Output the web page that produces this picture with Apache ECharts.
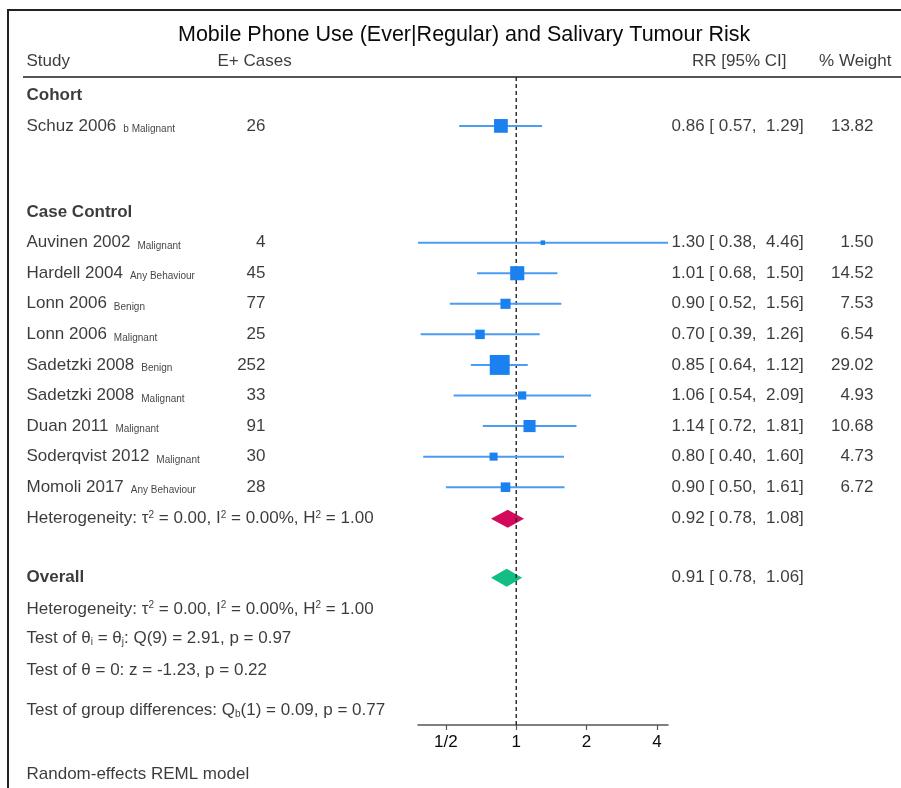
<!DOCTYPE html>
<html>
<head>
<meta charset="utf-8">
<title>Mobile Phone Use and Salivary Tumour Risk</title>
<script src="https://cdn.jsdelivr.net/npm/echarts@6/dist/echarts.min.js"></script>
<style>
  html, body { margin: 0; padding: 0; background: #fff; }
  #chart { width: 901px; height: 788px; }
</style>
</head>
<body>
<div id="chart"></div>
<script>
// study level data
var studies = ['Schuz 2006', 'Auvinen 2002', 'Hardell 2004', 'Lonn 2006', 'Lonn 2006',
               'Sadetzki 2008', 'Sadetzki 2008', 'Duan 2011', 'Soderqvist 2012', 'Momoli 2017'];
var subtypes = ['b Malignant', 'Malignant', 'Any Behaviour', 'Benign', 'Malignant',
                'Benign', 'Malignant', 'Malignant', 'Malignant', 'Any Behaviour'];
var cases = [26, 4, 45, 77, 25, 252, 33, 91, 30, 28];
var rr = [0.86, 1.30, 1.01, 0.90, 0.70, 0.85, 1.06, 1.14, 0.80, 0.90];
var ciLow = [0.57, 0.38, 0.68, 0.52, 0.39, 0.64, 0.54, 0.72, 0.40, 0.50];
var ciHigh = [1.29, 4.46, 1.50, 1.56, 1.26, 1.12, 2.09, 1.81, 1.60, 1.61];
var weights = [13.82, 1.50, 14.52, 7.53, 6.54, 29.02, 4.93, 10.68, 4.73, 6.72];
var studyRows = [1, 4.82, 5.82, 6.82, 7.82, 8.82, 9.82, 10.82, 11.82, 12.82];

// pooled estimates (case control subgroup, overall)
var pooledRR = [0.92, 0.91];
var pooledLow = [0.78, 0.78];
var pooledHigh = [1.08, 1.06];
var pooledRows = [13.85, 15.78];

// group headings and notes
var groupLabels = ['Cohort', 'Case Control', 'Overall'];
var groupRows = [0, 3.83, 15.78];
var noteTexts = [
  '{main|Heterogeneity: τ}{sup|2}{main| = 0.00, I}{sup|2}{main| = 0.00%, H}{sup|2}{main| = 1.00}',
  '{main|Heterogeneity: τ}{sup|2}{main| = 0.00, I}{sup|2}{main| = 0.00%, H}{sup|2}{main| = 1.00}',
  '{main|Test of θ}{sub|i}{main| = θ}{sub|j}{main|: Q(9) = 2.91, p = 0.97}',
  '{main|Test of θ = 0: z = -1.23, p = 0.22}',
  '{main|Test of group differences: Q}{sub|b}{main|(1) = 0.09, p = 0.77}',
  '{main|Random-effects REML model}'
];
var noteRows = [13.85, 16.8, 17.78, 18.8, 20.12, 22.2];

var headerTexts = ['Study', 'E+ Cases', 'RR [95% CI]', '% Weight'];
var headerRow = -1.1;
var xTicks = [0.5, 1, 2, 4];
var xTickLabels = ['1/2', '1', '2', '4'];

// layout
var FONT = '"Liberation Sans", Arial, Helvetica, sans-serif';
var INK = '#0a0a0a';
var ROW_PX = 648 / 21.2;
var Y_MIN = -0.6, Y_MAX = 20.6;
var FULL_MIN = Y_MIN - 77 / ROW_PX;
var FULL_MAX = FULL_MIN + 788 / ROW_PX;

function log2(v) { return Math.log(v) / Math.LN2; }
function f2(v) { return v.toFixed(2); }

var richStyles = {
  main: { fontSize: 17, fontFamily: FONT, color: INK },
  bold: { fontSize: 17, fontFamily: FONT, color: INK, fontWeight: 'bold' },
  sub: { fontSize: 10, fontFamily: FONT, color: INK, verticalAlign: 'bottom' },
  sup: { fontSize: 10, fontFamily: FONT, color: INK, verticalAlign: 'top' },
  tag: { fontSize: 10, fontFamily: FONT, color: '#111', verticalAlign: 'bottom', padding: [0, 0, 0, 7] }
};

// one text column drawn through the full-size helper grid
function textColumn(x, rows, texts, alignRight) {
  return {
    type: 'scatter',
    xAxisIndex: 1,
    yAxisIndex: 1,
    symbolSize: 1,
    silent: true,
    clip: false,
    itemStyle: { color: 'transparent' },
    label: {
      show: true,
      position: alignRight ? 'left' : 'right',
      distance: 0,
      color: INK,
      rich: richStyles
    },
    data: rows.map(function (r, i) {
      return { value: [x, r], label: { formatter: texts[i] } };
    })
  };
}

var studyTexts = studies.map(function (s, i) {
  return '{main|' + s + '}{tag|' + subtypes[i] + '}';
});
var caseTexts = cases.map(function (c) { return '{main|' + c + '}'; });
var rrTexts = rr.map(function (v, i) {
  return '{main|' + f2(v) + ' [ ' + f2(ciLow[i]) + ',  ' + f2(ciHigh[i]) + ']}';
});
var pooledTexts = pooledRR.map(function (v, i) {
  return '{main|' + f2(v) + ' [ ' + f2(pooledLow[i]) + ',  ' + f2(pooledHigh[i]) + ']}';
});
var weightTexts = weights.map(function (w) { return '{main|' + f2(w) + '}'; });
var groupTexts = groupLabels.map(function (g) { return '{bold|' + g + '}'; });

var studyData = rr.map(function (v, i) {
  return [log2(v), studyRows[i], log2(ciLow[i]), log2(ciHigh[i]), weights[i]];
});
var pooledData = pooledRR.map(function (v, i) {
  return [log2(v), pooledRows[i], log2(pooledLow[i]), log2(pooledHigh[i])];
});
var diamondColors = ['#d30a5b', '#12be82'];

var chart = echarts.init(document.getElementById('chart'));
var option = {
  animation: false,
  title: {
    text: 'Mobile Phone Use (Ever|Regular) and Salivary Tumour Risk',
    left: 173,
    top: 19,
    textStyle: { fontFamily: FONT, fontSize: 21.5, fontWeight: 'normal', color: INK }
  },
  graphic: [
    { type: 'rect', shape: { x: 8, y: 10, width: 1000, height: 1000 },
      style: { fill: 'none', stroke: '#222', lineWidth: 2 }, silent: true },
    { type: 'line', shape: { x1: 23, y1: 77, x2: 901, y2: 77 },
      style: { stroke: '#555', lineWidth: 2 }, silent: true }
  ],
  grid: [
    { left: 418, right: 233, top: 77, bottom: 63 },
    { left: 0, right: 0, top: 0, bottom: 0 }
  ],
  xAxis: [
    {
      type: 'value',
      gridIndex: 0,
      min: log2(0.38),
      max: log2(4.46),
      axisLine: { show: true, onZero: false, lineStyle: { color: '#555', width: 1.5 } },
      axisTick: { show: true, length: 5, customValues: xTicks.map(log2), lineStyle: { color: '#555', width: 1.2 } },
      axisLabel: {
        customValues: xTicks.map(log2),
        margin: 9,
        fontFamily: FONT,
        fontSize: 17,
        color: INK,
        formatter: function (v) {
          var i = xTicks.map(log2).findIndex(function (t) { return Math.abs(t - v) < 1e-6; });
          return i >= 0 ? xTickLabels[i] : '';
        }
      },
      splitLine: { show: false }
    },
    { type: 'value', gridIndex: 1, min: 0, max: 901, show: false }
  ],
  yAxis: [
    { type: 'value', gridIndex: 0, inverse: true, min: Y_MIN, max: Y_MAX, show: false },
    { type: 'value', gridIndex: 1, inverse: true, min: FULL_MIN, max: FULL_MAX, show: false }
  ],
  series: [
    // study estimates: CI whisker and weight-sized square
    {
      type: 'custom',
      xAxisIndex: 0,
      yAxisIndex: 0,
      silent: true,
      clip: false,
      z: 6,
      data: studyData,
      renderItem: function (params, api) {
        var c = api.coord([api.value(0), api.value(1)]);
        var a = api.coord([api.value(2), api.value(1)]);
        var b = api.coord([api.value(3), api.value(1)]);
        var side = 3.7 * Math.sqrt(api.value(4));
        return {
          type: 'group',
          children: [
            { type: 'line', shape: { x1: a[0], y1: a[1], x2: b[0], y2: b[1] },
              style: { stroke: '#4a9df3', lineWidth: 2 } },
            { type: 'rect', shape: { x: c[0] - side / 2, y: c[1] - side / 2, width: side, height: side },
              style: { fill: '#1b80f0' } }
          ]
        };
      }
    },
    // pooled diamonds
    {
      type: 'custom',
      xAxisIndex: 0,
      yAxisIndex: 0,
      silent: true,
      clip: false,
      z: 2,
      data: pooledData,
      renderItem: function (params, api) {
        var c = api.coord([api.value(0), api.value(1)]);
        var a = api.coord([api.value(2), api.value(1)]);
        var b = api.coord([api.value(3), api.value(1)]);
        var h = 9;
        return {
          type: 'polygon',
          shape: { points: [[a[0], c[1]], [c[0], c[1] - h], [b[0], c[1]], [c[0], c[1] + h]] },
          style: { fill: diamondColors[params.dataIndex] }
        };
      }
    },
    // line of no effect
    {
      type: 'line',
      xAxisIndex: 0,
      yAxisIndex: 0,
      silent: true,
      symbol: 'none',
      z: 4,
      data: [[0, Y_MIN], [0, Y_MAX]],
      lineStyle: { color: '#222', width: 1.4, type: [4, 3] }
    },
    textColumn(26, [headerRow], ['{main|' + headerTexts[0] + '}'], false),
    textColumn(217, [headerRow], ['{main|' + headerTexts[1] + '}'], false),
    textColumn(787, [headerRow], ['{main|' + headerTexts[2] + '}'], true),
    textColumn(892, [headerRow], ['{main|' + headerTexts[3] + '}'], true),
    textColumn(26, groupRows, groupTexts, false),
    textColumn(26, studyRows, studyTexts, false),
    textColumn(266, studyRows, caseTexts, true),
    textColumn(671, studyRows, rrTexts, false),
    textColumn(874, studyRows, weightTexts, true),
    textColumn(671, pooledRows, pooledTexts, false),
    textColumn(26, noteRows, noteTexts, false)
  ]
};
chart.setOption(option);
</script>
</body>
</html>
